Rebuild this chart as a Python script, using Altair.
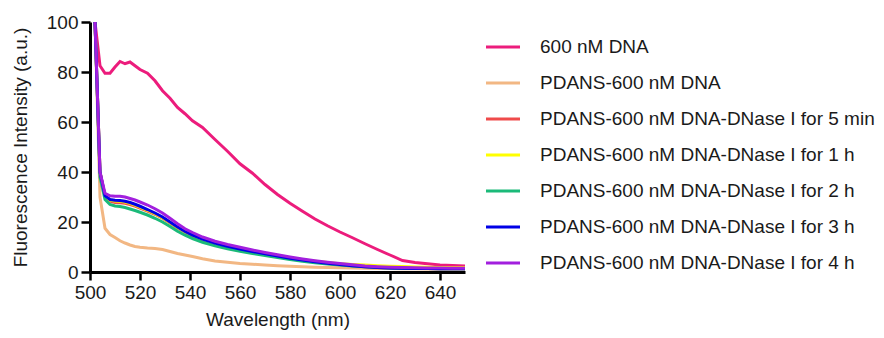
import altair as alt
import pandas as pd

wavelength = [502, 504, 506, 508, 510, 512, 514, 516, 518, 520, 523, 526, 529, 532, 535,
              538, 541, 545, 550, 555, 560, 565, 570, 575, 580, 585, 590, 595, 600, 605,
              610, 615, 620, 625, 630, 635, 640, 645, 650]

dna_600 = [100, 82.5, 79.5, 79.5, 82.0, 84.2, 83.3, 84.0, 82.5, 81.0, 79.5, 76.5, 72.5, 69.5, 65.8,
           63.3, 60.5, 57.8, 53.0, 48.3, 43.3, 39.5, 35.0, 31.0, 27.5, 24.3, 21.2, 18.5, 16.0, 13.7,
           11.3, 9.0, 6.8, 4.6, 3.8, 3.3, 2.8, 2.6, 2.4]

pdans_dna = [100, 30.0, 17.5, 15.0, 13.8, 12.5, 11.6, 10.8, 10.2, 9.9, 9.6, 9.4, 9.0, 8.2, 7.4,
             6.8, 6.2, 5.3, 4.4, 3.9, 3.4, 3.1, 2.8, 2.5, 2.3, 2.1, 1.9, 1.8, 1.7, 1.6,
             1.5, 1.4, 1.4, 1.3, 1.3, 1.2, 1.2, 1.2, 1.2]

dnase_5min = [100, 40.0, 30.0, 28.3, 27.8, 27.7, 27.5, 27.0, 26.4, 25.6, 24.4, 23.1, 21.5, 19.6, 17.6,
              15.9, 14.5, 12.9, 11.4, 10.1, 9.0, 8.0, 7.1, 6.3, 5.4, 4.7, 4.0, 3.4, 2.9, 2.5,
              2.1, 1.8, 1.6, 1.5, 1.4, 1.4, 1.3, 1.3, 1.3]

dnase_1h = [100, 40.0, 30.3, 28.8, 28.4, 28.3, 28.0, 27.5, 26.8, 26.0, 24.7, 23.3, 21.7, 19.8, 17.8,
            16.0, 14.6, 13.0, 11.5, 10.2, 9.1, 8.1, 7.2, 6.4, 5.6, 4.9, 4.3, 3.8, 3.3, 3.0,
            2.8, 2.5, 2.3, 2.2, 2.0, 1.9, 1.8, 1.7, 1.7]

dnase_2h = [100, 38.0, 29.0, 27.0, 26.4, 26.2, 25.8, 25.2, 24.6, 23.9, 22.8, 21.5, 20.0, 18.2, 16.3,
            14.7, 13.4, 11.9, 10.5, 9.3, 8.3, 7.4, 6.6, 5.8, 5.0, 4.3, 3.7, 3.2, 2.8, 2.4,
            2.1, 1.8, 1.6, 1.5, 1.4, 1.4, 1.3, 1.3, 1.3]

dnase_3h = [100, 40.0, 30.5, 29.0, 28.7, 28.6, 28.3, 27.8, 27.1, 26.3, 25.0, 23.6, 22.0, 20.0, 18.0,
            16.2, 14.8, 13.2, 11.6, 10.3, 9.2, 8.2, 7.3, 6.4, 5.5, 4.8, 4.1, 3.5, 3.0, 2.5,
            2.1, 1.8, 1.6, 1.5, 1.4, 1.4, 1.3, 1.3, 1.3]

dnase_4h = [100, 40.0, 31.5, 30.5, 30.3, 30.3, 30.0, 29.4, 28.8, 28.0, 26.8, 25.3, 23.6, 21.5, 19.3,
            17.3, 15.8, 14.0, 12.3, 11.0, 9.9, 8.8, 7.8, 6.9, 6.0, 5.2, 4.5, 3.9, 3.4, 2.9,
            2.4, 2.1, 1.9, 1.8, 1.7, 1.6, 1.6, 1.5, 1.5]

labels = [
    "600 nM DNA",
    "PDANS-600 nM DNA",
    "PDANS-600 nM DNA-DNase I for 5 min",
    "PDANS-600 nM DNA-DNase I for 1 h",
    "PDANS-600 nM DNA-DNase I for 2 h",
    "PDANS-600 nM DNA-DNase I for 3 h",
    "PDANS-600 nM DNA-DNase I for 4 h",
]
colors = ["#EC1C7C", "#F2B783", "#EF4A4A", "#FFFF00", "#1BBA79", "#0000E6", "#A21FDE"]
series = [dna_600, pdans_dna, dnase_5min, dnase_1h, dnase_2h, dnase_3h, dnase_4h]

rows = []
for i, (lab, vals) in enumerate(zip(labels, series)):
    for w, v in zip(wavelength, vals):
        rows.append({"wavelength": w, "intensity": v, "series": lab, "order": i})
df = pd.DataFrame(rows)

FONT = "Liberation Sans"

chart = alt.Chart(df).mark_line(strokeWidth=3, clip=True).encode(
    x=alt.X("wavelength:Q",
            scale=alt.Scale(domain=[500, 650], nice=False, zero=False),
            axis=alt.Axis(title="Wavelength (nm)", values=[500, 520, 540, 560, 580, 600, 620, 640],
                          grid=False, tickSize=8, tickWidth=2.5, domainWidth=3,
                          labelFlush=False, labelPadding=3, titlePadding=8)),
    y=alt.Y("intensity:Q",
            scale=alt.Scale(domain=[0, 100], nice=False),
            axis=alt.Axis(title="Fluorescence Intensity (a.u.)", values=[0, 20, 40, 60, 80, 100],
                          grid=False, tickSize=9, tickWidth=2.5, domainWidth=3,
                          labelFlush=False, labelPadding=3, titlePadding=16)),
    color=alt.Color("series:N",
                    scale=alt.Scale(domain=labels, range=colors),
                    legend=alt.Legend(title=None, orient="none", legendX=394, legendY=6,
                                      symbolType="stroke", symbolSize=1156, symbolStrokeWidth=3.2,
                                      labelFontSize=19, labelFont=FONT, labelColor="#1a1a1a",
                                      labelOffset=18, rowPadding=7, labelLimit=400)),
    detail="series:N",
    order=alt.Order("order:Q"),
).properties(
    width=375, height=250,
    autosize=alt.AutoSizeParams(type="none"),
    padding={"left": 82, "top": 14, "right": 411, "bottom": 58},
).configure_view(stroke=None).configure_axis(
    labelFont=FONT, titleFont=FONT, labelFontSize=19, titleFontSize=19,
    labelColor="#1a1a1a", titleColor="#1a1a1a", domainColor="#000000", tickColor="#000000",
    titleFontWeight="normal",
)

chart.save("out.html", embed_options={"renderer": "svg", "actions": False})
